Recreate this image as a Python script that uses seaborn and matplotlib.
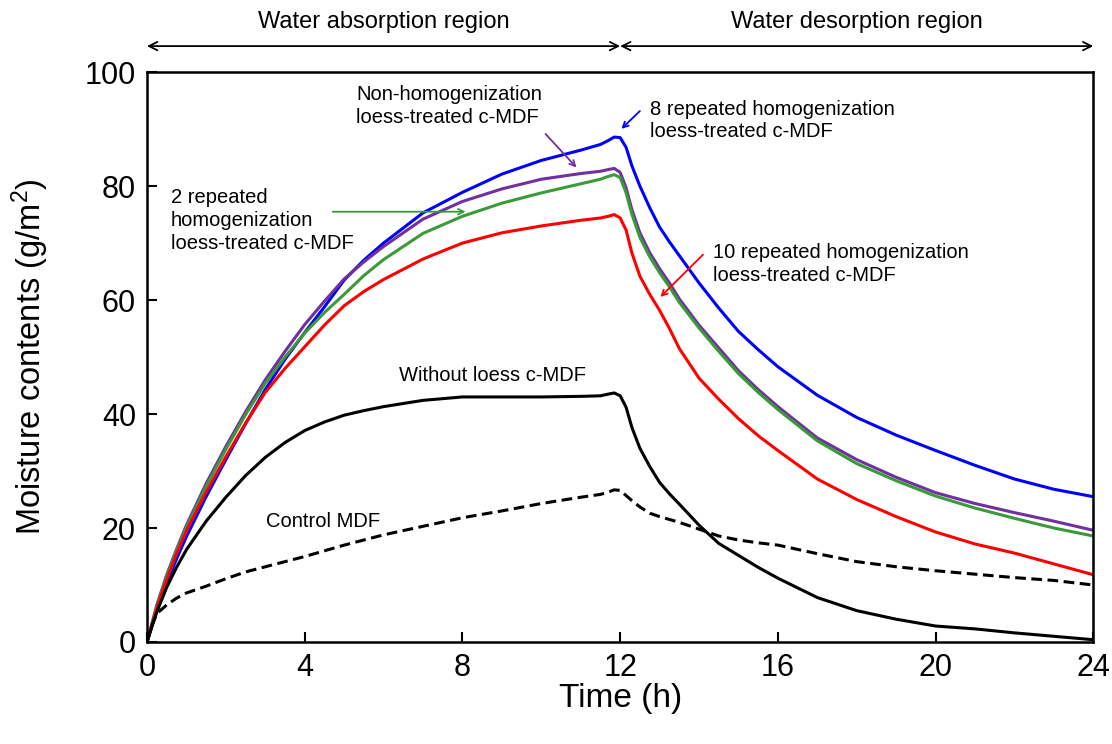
import numpy as np
import pandas as pd
import seaborn as sns
import matplotlib.pyplot as plt

# time points (h)
time_h = [0, 0.1, 0.25, 0.5, 0.75, 1, 1.5, 2, 2.5, 3, 3.5, 4, 4.5, 5, 5.5, 6, 7, 8, 9, 10, 11,
          11.5, 11.7, 11.85, 12, 12.15, 12.3, 12.5, 12.75, 13, 13.25, 13.5, 14, 14.5, 15, 15.5, 16,
          17, 18, 19, 20, 21, 22, 23, 24]

# moisture contents (g/m2)
rep8 = [0, 2.2, 5.5, 10.3, 14.6, 18.5, 25.5, 32, 38.3, 44.3, 49.6, 54.3, 58.8, 63.5, 67, 70, 75.3, 78.9,
        82.1, 84.5, 86.3, 87.3, 88, 88.6, 88.5, 86.8, 83.5, 80, 76.2, 72.8, 70.2, 67.8, 63, 58.6, 54.5,
        51.3, 48.3, 43.3, 39.4, 36.3, 33.6, 31, 28.6, 26.8, 25.5]
nonhomo = [0, 2.6, 6.5, 11.8, 16.3, 20.5, 27.8, 34.3, 40.4, 46, 51, 55.7, 59.8, 63.7, 66.7, 69.4, 74.2, 77.3,
           79.5, 81.2, 82.2, 82.6, 82.9, 83.1, 82.4, 79.7, 75.8, 71.8, 68.3, 65.5, 63, 60.2, 55.6, 51.6,
           47.6, 44.3, 41.3, 35.8, 32, 28.9, 26.2, 24.3, 22.7, 21.2, 19.6]
rep2 = [0, 2.5, 6.3, 11.6, 16, 20.1, 27.3, 33.8, 39.9, 45.4, 50, 54.2, 57.8, 61, 64.3, 67.1, 71.7, 74.7,
        77, 78.8, 80.4, 81.2, 81.7, 82, 81.5, 78.8, 75, 71, 67.6, 64.8, 62.3, 59.6, 55.1, 51, 47.1,
        43.8, 40.8, 35.3, 31.3, 28.3, 25.6, 23.5, 21.7, 20, 18.6]
rep10 = [0, 2.4, 6, 11, 15.5, 19.5, 26.3, 32.5, 38.4, 43.8, 48, 51.8, 55.6, 59, 61.5, 63.6, 67.2, 70,
         71.8, 73, 74, 74.4, 74.7, 75, 74.4, 72.3, 68.2, 64.2, 61, 58.2, 55, 51.5, 46.3, 42.6, 39.2,
         36.2, 33.6, 28.6, 25, 22, 19.3, 17.2, 15.6, 13.7, 11.8]
no_loess = [0, 2.2, 5.3, 9.6, 13.1, 16.2, 21.2, 25.4, 29.2, 32.4, 35, 37.1, 38.6, 39.8, 40.6, 41.3, 42.4, 43,
            43, 43, 43.1, 43.2, 43.5, 43.7, 43.2, 41.2, 37.6, 34, 30.8, 28, 26, 24.2, 20.5, 17.3, 15.2,
            13.1, 11.2, 7.8, 5.5, 4, 2.8, 2.3, 1.6, 1, 0.4]
control = [0, 2.5, 5, 6.5, 7.7, 8.6, 9.8, 11.1, 12.3, 13.2, 14.1, 15, 16, 17, 17.9, 18.8, 20.3, 21.8,
           23, 24.3, 25.4, 25.9, 26.3, 26.7, 26.6, 25.7, 24.8, 23.7, 22.6, 22, 21.5, 21, 19.8, 18.6, 17.9,
           17.4, 17, 15.5, 14.1, 13.2, 12.5, 11.9, 11.3, 10.8, 10]

series = [
    (rep8, '#0000FF', '-'),
    (nonhomo, '#7030A0', '-'),
    (rep2, '#3A9A3A', '-'),
    (rep10, '#FF0000', '-'),
    (no_loess, '#000000', '-'),
    (control, '#000000', (0, (3.5, 1.8))),
]

sns.set_style('white')
plt.rcParams['font.family'] = ['Liberation Sans', 'DejaVu Sans']
plt.rcParams['mathtext.fontset'] = 'custom'
plt.rcParams['mathtext.rm'] = 'Liberation Sans'
plt.rcParams['mathtext.it'] = 'Liberation Sans'
for k in ['text.color', 'axes.labelcolor', 'xtick.color', 'ytick.color']:
    plt.rcParams[k] = 'black'

fig = plt.figure(figsize=(11.12, 7.44), dpi=100)
ax = fig.add_axes([0.1322, 0.1371, 0.851, 0.766])

for vals, col, ls in series:
    sns.lineplot(x=time_h, y=vals, color=col, linestyle=ls, linewidth=2.2, ax=ax,
                 solid_joinstyle='round', dash_joinstyle='round')

ax.set_xlim(0, 24)
ax.set_ylim(0, 100)
ax.set_xticks(np.arange(0, 25, 4))
ax.set_yticks(np.arange(0, 101, 20))
ax.tick_params(direction='in', length=7, width=1.5, labelsize=22, pad=8,
               top=False, right=False, bottom=True, left=True)
for sp in ax.spines.values():
    sp.set_linewidth(1.8)
    sp.set_color('black')
ax.set_xlabel('Time (h)', fontsize=24, labelpad=0)
ax.set_ylabel('Moisture contents (g/m$^2$)', fontsize=23.5, labelpad=24)

# curve labels
fs = 14.5
ax.text(5.3, 94.0, 'Non-homogenization\nloess-treated c-MDF', fontsize=fs, va='center', linespacing=1.25)
ax.annotate('', xy=(10.94, 82.9), xytext=(10.06, 89.5),
            arrowprops=dict(arrowstyle='->', color='#7030A0', lw=1.3))
ax.text(0.6, 74.0, '2 repeated\nhomogenization\nloess-treated c-MDF', fontsize=fs, va='center', linespacing=1.25)
ax.annotate('', xy=(8.15, 75.5), xytext=(4.64, 75.5),
            arrowprops=dict(arrowstyle='->', color='#3A9A3A', lw=1.3))
ax.text(12.76, 91.5, '8 repeated homogenization\nloess-treated c-MDF', fontsize=fs, va='center', linespacing=1.25)
ax.annotate('', xy=(11.98, 89.7), xytext=(12.55, 93.5),
            arrowprops=dict(arrowstyle='->', color='#0000FF', lw=1.3))
ax.text(14.35, 66.3, '10 repeated homogenization\nloess-treated c-MDF', fontsize=fs, va='center', linespacing=1.25)
ax.annotate('', xy=(12.97, 60.2), xytext=(14.15, 68.3),
            arrowprops=dict(arrowstyle='->', color='#FF0000', lw=1.3))
ax.text(6.38, 46.7, 'Without loess c-MDF', fontsize=fs, va='center')
ax.text(3.02, 21.1, 'Control MDF', fontsize=fs, va='center')

# region arrows above the plot
trans = ax.get_xaxis_transform()
for x0, x1, lab in [(0, 12, 'Water absorption region'), (12, 24, 'Water desorption region')]:
    ax.annotate('', xy=(x1, 1.0456), xytext=(x0, 1.0456), xycoords=trans, textcoords=trans,
                arrowprops=dict(arrowstyle='<->,head_length=0.6,head_width=0.3', color='black',
                                lw=1.3, shrinkA=0, shrinkB=0), annotation_clip=False)
    ax.text((x0 + x1) / 2, 1.088, lab, transform=trans, ha='center', va='center', fontsize=17)

fig.savefig('out.png', dpi=100)
